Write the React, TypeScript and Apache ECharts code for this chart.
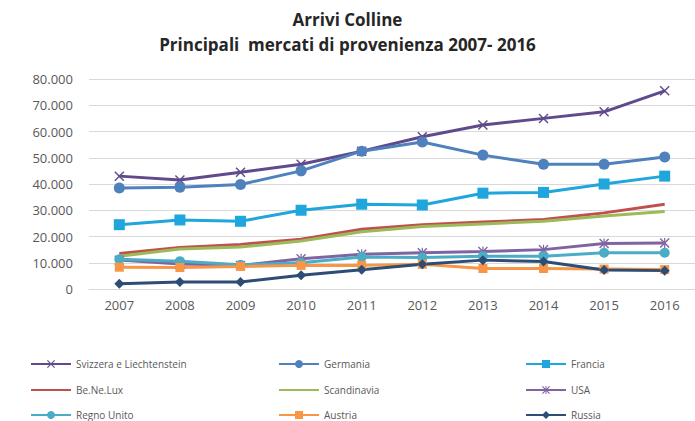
import React, { useEffect, useRef } from "react";
import * as echarts from "echarts";

const years = ["2007", "2008", "2009", "2010", "2011", "2012", "2013", "2014", "2015", "2016"];
const svizzera = [43000, 41500, 44500, 47500, 52500, 58000, 62500, 65000, 67500, 75500];
const germania = [38500, 38800, 39800, 45000, 52500, 56000, 51000, 47500, 47500, 50300];
const francia = [24500, 26300, 25800, 30000, 32300, 32000, 36500, 36800, 40000, 43000];
const benelux = [13500, 15800, 17000, 19000, 22800, 24500, 25500, 26500, 29000, 32300];
const scandinavia = [12500, 15200, 16000, 18300, 21800, 23800, 24800, 25800, 27800, 29500];
const usa = [11000, 9500, 9000, 11500, 13200, 13800, 14300, 15000, 17300, 17500];
const regnoUnito = [11300, 10600, 9200, 10000, 12200, 12000, 12500, 12500, 13800, 13800];
const austria = [8300, 8200, 8600, 9000, 9000, 9400, 7800, 7800, 7600, 7400];
const russia = [2000, 2700, 2700, 5200, 7300, 9400, 11000, 10500, 7200, 7000];
const yTicks = [0, 10000, 20000, 30000, 40000, 50000, 60000, 70000, 80000];
const legendRows = [
  ["Svizzera e Liechtenstein", "Germania", "Francia"],
  ["Be.Ne.Lux", "Scandinavia", "USA"],
  ["Regno Unito", "Austria", "Russia"],
];
const noMarker = ["Be.Ne.Lux", "Scandinavia"];

const X_PATH = "path://M0,1 L1,0 L5,4 L9,0 L10,1 L6,5 L10,9 L9,10 L5,6 L1,10 L0,9 L4,5 Z";
const STAR_PATH =
  "path://M0,1 L1,0 L5,4 L9,0 L10,1 L6,5 L10,9 L9,10 L5,6 L1,10 L0,9 L4,5 Z M4.4,0 L5.6,0 L5.6,10 L4.4,10 Z";

export default function App() {
  const ref = useRef<HTMLDivElement>(null);
  useEffect(() => {
    document.body.style.margin = "0";
    const chart = echarts.init(ref.current!, null, { renderer: "svg" });
    const fmt = (v: number) =>
      v === 0 ? "0" : String(Math.round(v / 1000)) + ".000";
    const mk = (
      name: string,
      data: number[],
      color: string,
      symbol: string,
      symbolSize: number
    ) => ({
      name,
      type: "line",
      data,
      symbol,
      symbolSize,
      showSymbol: symbol !== "none",
      lineStyle: { color, width: 3 },
      itemStyle: { color, borderColor: color, borderWidth: 0 },
      emphasis: { disabled: true },
    });
    const colLeft = [30, 278, 525];
    const rowTop = [359, 385, 410];
    const legends: any[] = [];
    legendRows.forEach((row, r) =>
      row.forEach((name, c) =>
        legends.push({
          orient: "horizontal",
          itemWidth: 40,
          itemHeight: 10,
          left: colLeft[c],
          top: rowTop[r],
          padding: 0,
          data: [
            noMarker.includes(name)
              ? { name, itemStyle: { opacity: 0 } }
              : name,
          ],
          selectedMode: false,
          textStyle: { color: "#595959", fontSize: 10, fontFamily: "Open Sans" },
        })
      )
    );
    chart.setOption({
      animation: false,
      title: {
        text: "Arrivi Colline\nPrincipali  mercati di provenienza 2007- 2016",
        left: "center",
        top: 2,
        textStyle: {
          fontFamily: "Open Sans",
          fontWeight: "bold",
          fontSize: 17,
          color: "#262626",
          lineHeight: 25,
        },
      },
      legend: legends,
      grid: { left: 89, top: 79, width: 620, height: 210, containLabel: false },
      xAxis: {
        type: "category",
        data: years,
        boundaryGap: true,
        axisLine: { lineStyle: { color: "#d9d9d9" } },
        axisTick: { show: false },
        axisLabel: { color: "#595959", fontSize: 13, margin: 9, fontFamily: "Open Sans" },
      },
      yAxis: {
        type: "value",
        min: 0,
        max: 80000,
        interval: 10000,
        axisLine: { show: false },
        axisTick: { show: false },
        splitLine: { lineStyle: { color: "#d9d9d9", width: 1 } },
        axisLabel: {
          color: "#595959",
          fontSize: 13,
          margin: 16,
          fontFamily: "Open Sans",
          formatter: (v: number) => (yTicks.includes(v) ? fmt(v) : ""),
        },
      },
      series: [
        mk("Svizzera e Liechtenstein", svizzera, "#5f4b8b", X_PATH, 10),
        mk("Germania", germania, "#4f81bd", "circle", 11),
        mk("Francia", francia, "#1ea6dd", "rect", 11),
        mk("Be.Ne.Lux", benelux, "#c0504d", "none", 0),
        mk("Scandinavia", scandinavia, "#9bbb59", "none", 0),
        mk("USA", usa, "#8064a2", STAR_PATH, 10),
        mk("Regno Unito", regnoUnito, "#4bacc6", "circle", 10),
        mk("Austria", austria, "#f79646", "rect", 9),
        mk("Russia", russia, "#2c4d75", "diamond", 10),
      ],
    });
    return () => chart.dispose();
  }, []);
  return <div ref={ref} style={{ width: 695, height: 421, overflow: "hidden" }} />;
}
